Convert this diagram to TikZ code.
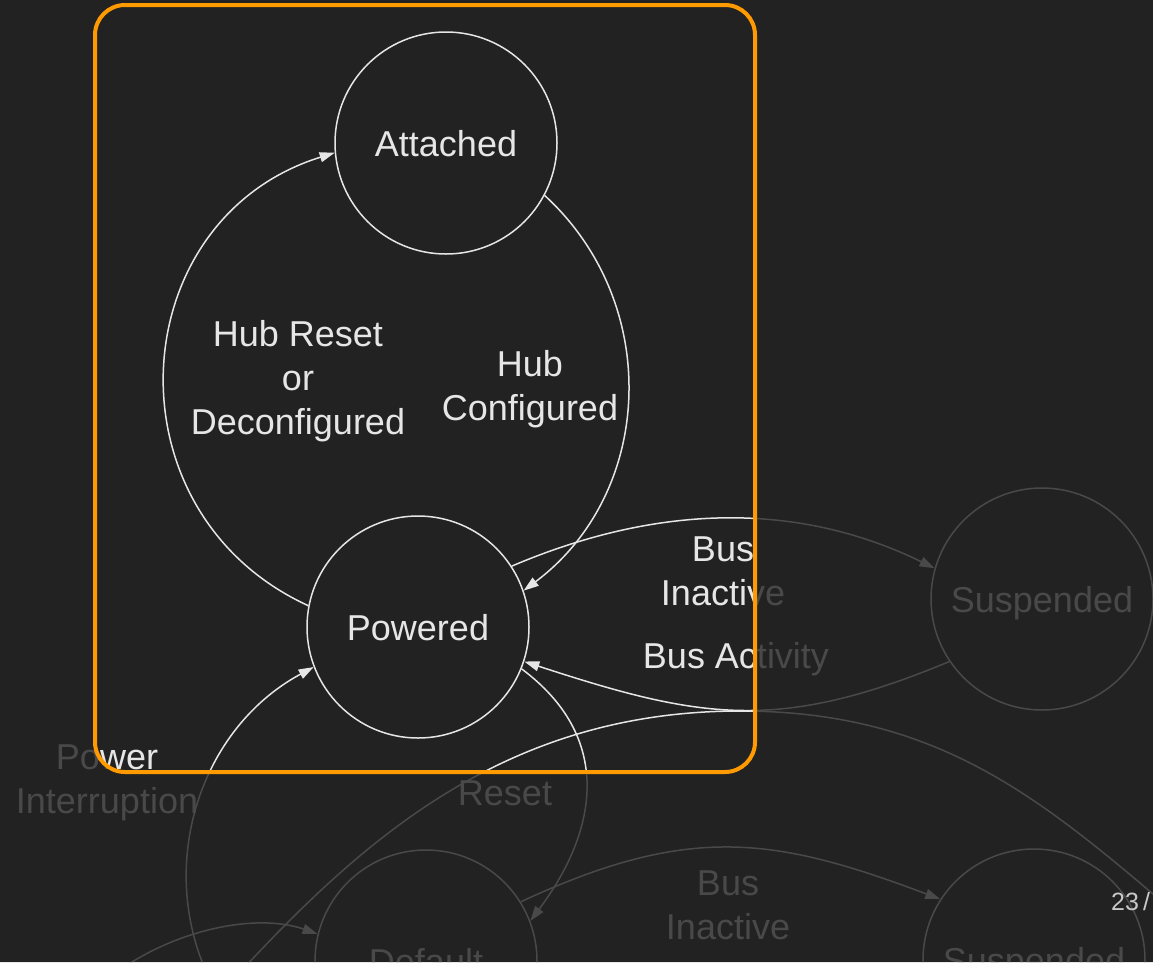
\documentclass[tikz,border=0pt]{standalone}
\usepackage{fontspec}
\setmainfont{Liberation Sans}
\usetikzlibrary{arrows.meta}
\definecolor{bg}{HTML}{222222}
\definecolor{ink}{HTML}{E6E6E6}
\definecolor{hl}{HTML}{FF9A00}
\definecolor{pagenum}{HTML}{C8C8C8}

\begin{document}
\begin{tikzpicture}[x=1pt,y=-1pt,
  statenode/.style={circle, draw=ink, line width=1.5pt, minimum size=222pt,
    inner sep=0pt, text=ink, text height=26pt, text depth=0pt,
    font=\fontsize{36}{44}\selectfont},
  lbl/.style={text=ink, align=center, inner sep=0pt,
    font=\fontsize{36}{44}\selectfont},
  conn/.style={draw=ink, line width=1.5pt, -{Triangle[length=15pt,width=10pt]}},
  wire/.style={draw=ink, line width=1.5pt}]

\useasboundingbox (0,0) rectangle (1153,962);
\fill[bg] (0,0) rectangle (1153,962);
\clip (0,0) rectangle (1153,962);

% states
\node[statenode] (at) at (446,143) {Attached};
\node[statenode] (pw) at (418,627) {Powered};
\node[statenode] (su) at (1042,599) {Suspended};
\node[statenode] (df) at (426,961) {Default};
\node[statenode] (sb) at (1034,960) {Suspended};

% free ends of transitions coming from states further down
\coordinate (pi0) at (218,995);
\coordinate (dl0) at (100,985);
\coordinate (la0) at (210,1005);
\coordinate (lam) at (740,711);
\coordinate (la1) at (1180,917);

% transitions
\draw[conn] (pw.169) .. controls (104,512) and (122,219) .. (at.185);
\draw[conn] (at.332) .. controls (663,304) and (654,493) .. (pw.19);
\draw[conn] (pw.33) .. controls (655,505) and (795,500) .. (su.164);
\draw[conn] (su.214) .. controls (778,733) and (700,719) .. (pw.342);
\draw[conn] (pw.338) .. controls (613,737) and (599,829) .. (df.21);
\draw[conn] (pi0) .. controls (151,879) and (195,731) .. (pw.201);
\draw[conn] (df.32) .. controls (690,823) and (775,837) .. (sb.147);
\draw[conn] (dl0) .. controls (165,930) and (255,912) .. (df.166);
\draw[wire] (la0) .. controls (344,857) and (490,711) .. (lam)
                  .. controls (940,711) and (1043,800) .. (la1);

% transition labels
\node[lbl] (l1) at (298,380.7) {Hub Reset\\or\\Deconfigured};
\node[lbl] (l2) at (530,388.7) {Hub\\Configured};
\node[lbl] (l3) at (723,571.4) {Bus\\Inactive};
\node[lbl] (l4) at (736,658.7) {Bus Activity};
\node[lbl] (l5) at (107,782.7) {Power\\Interruption};
\node[lbl] (l6) at (505,793) {Reset};
\node[lbl] (l7) at (728,904.9) {Bus\\Inactive};

% dim everything outside the highlighted region
\fill[bg, opacity=0.8, even odd rule] (0,0) rectangle (1153,962)
  [rounded corners=30pt] (95,5) rectangle (755,772);
\draw[hl, line width=4pt, rounded corners=30pt] (95,5) rectangle (755,772);

% page number
\node[anchor=base west, text=pagenum, inner sep=0pt,
  font=\fontsize{25}{30}\selectfont] (pg) at (1111,910) {23\,/};
\end{tikzpicture}
\end{document}
